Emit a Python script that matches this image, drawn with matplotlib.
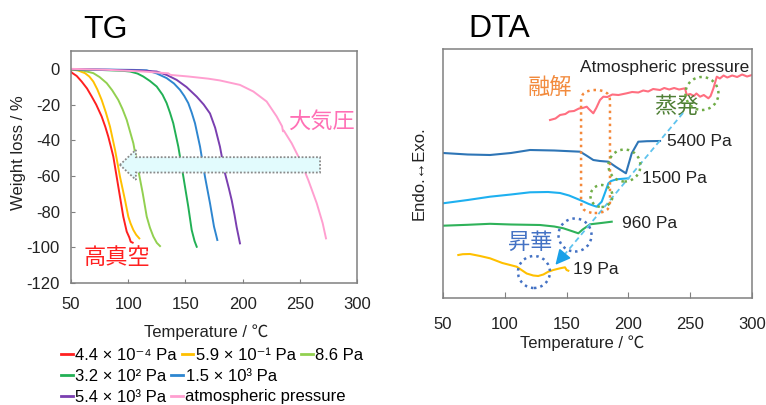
import matplotlib
matplotlib.use('Agg')
import matplotlib.pyplot as plt
from matplotlib.patches import Ellipse, FancyArrow, FancyBboxPatch
from matplotlib.lines import Line2D

plt.rcParams['font.family'] = ['Liberation Sans', 'Noto Sans CJK JP', 'DejaVu Sans']
plt.rcParams['axes.unicode_minus'] = False

# ---- TG data (temperature degC, weight loss %) ----
tg_labels = ['4.4 × 10⁻⁴ Pa', '5.9 × 10⁻¹ Pa', '8.6 Pa',
             '3.2 × 10² Pa', '1.5 × 10³ Pa',
             '5.4 × 10³ Pa', 'atmospheric pressure']
tg_colors = ['#ff2020', '#ffc000', '#92d050', '#22b055', '#2e86d0', '#7a3fb0', '#ff9fd0']

t_red = [50, 50.6, 55, 59.3, 64, 68.1, 72, 76.8, 80, 82.6, 85, 87, 89.9, 92.8, 95.7, 98.7, 101, 102.2, 103.9]
w_red = [-1.5, -2.1, -4.0, -7.1, -11, -15.5, -20, -26.7, -32.5, -38, -44, -49.2, -60.4, -71.6, -82.8, -91.2, -94.5, -96.9, -97.4]

t_yel = [50, 56, 62.2, 66, 69.5, 73, 76.8, 80.5, 84.1, 88.5, 92.8, 97.2, 100.1, 102, 104.5, 107, 109.7]
w_yel = [-0.3, -0.9, -2.4, -4.3, -7.1, -11.5, -17.4, -24.5, -32.4, -45.4, -60.4, -73.5, -82.8, -86.5, -90.3, -93, -95]

t_lgr = [50, 60, 69.5, 75, 81.2, 86, 91.3, 95, 98.7, 104.5, 108.8, 112.7, 116.2, 119, 122, 125, 127.8]
w_lgr = [-0.2, -0.9, -2.4, -4.6, -8.0, -12, -17.4, -22.5, -28.6, -41.7, -56.7, -69.7, -82.8, -89, -94, -97.5, -99.3]

t_grn = [50, 75, 95, 101.6, 108, 113.2, 119, 124.9, 130, 133.6, 136.5, 139.4, 143.8, 148.2, 152.5, 155.5, 158, 159.9]
w_grn = [-0.2, -0.6, -1.1, -1.5, -2.6, -4.3, -6.8, -9.9, -14.5, -19.2, -24.5, -30.5, -43.6, -60.4, -77.2, -90.3, -96.5, -99.7]

t_blu = [50, 80, 105, 116.2, 125, 133.6, 140, 145.3, 149, 152.5, 155.5, 158.4, 162.8, 167.1, 171.5, 175, 176.8, 177.9]
w_blu = [-0.2, -0.4, -0.6, -0.8, -2.6, -5.2, -8.2, -11.8, -15.2, -19.2, -24.5, -30.5, -43.6, -60.4, -75.3, -88.4, -93, -95.9]

t_pur = [50, 80, 110, 124.9, 134, 142.4, 151, 159.9, 166, 171.5, 176, 180.2, 184.6, 188, 190.5, 193, 194.8, 196.5, 197.7]
w_pur = [-0.2, -0.5, -0.9, -1.5, -3.5, -6.2, -10.2, -15.6, -20, -25, -33, -43.6, -58.5, -67, -73.7, -82, -88.7, -94, -97.8]

t_pnk = [50, 80, 113, 135, 137, 152.8, 170, 180.2, 197.7, 209.4, 221, 229.8, 234.5, 235.3, 236, 242.9, 250.2, 257.4, 264.8, 270, 272.9]
w_pnk = [0, -0.5, -1.5, -2.5, -3.4, -4.3, -5.5, -6.5, -9.0, -12.7, -18.3, -26.7, -32.2, -35.0, -34.6, -41.7, -51.0, -62.3, -75.3, -86.5, -95.0]

tg_t = [t_red, t_yel, t_lgr, t_grn, t_blu, t_pur, t_pnk]
tg_w = [w_red, w_yel, w_lgr, w_grn, w_blu, w_pur, w_pnk]

# ---- DTA data (temperature degC, signal arb. units) ----
dta_names = ['Atmospheric pressure', '5400 Pa', '1500 Pa', '960 Pa', '19 Pa']
dta_colors = ['#ff6f80', '#2e75b6', '#1eb0f0', '#2fb25a', '#ffc000']

d_atm_t = [136.6, 141, 144.7, 149, 152, 156, 160, 163, 166.3, 168, 171.6, 174, 177, 179.7, 183, 187, 192, 198.6, 203,
           208, 212, 216, 220, 225.6, 229, 233, 237, 241, 245.8, 247.2, 250, 253, 255, 258, 261, 264.7, 266.5, 268.8,
           271.5, 274, 277, 280, 284, 288, 292, 296, 300]
d_atm_v = [178, 179.5, 183, 184, 186.5, 187, 189.5, 190, 191.3, 189, 184.7, 190, 198, 201.3, 201, 203.5, 203, 204.7, 206,
           205.5, 207.5, 206.5, 209, 208, 210, 208.5, 210, 208.5, 209.7, 203, 204, 202, 204.5, 201.3, 203, 199.7, 202,
           209.7, 221.3, 219.5, 222.5, 220.5, 222.5, 221, 223.5, 221.5, 223]

d_5400_t = [50, 70, 88, 105, 120.4, 140, 161, 166, 171.6, 177, 183.8, 190, 198, 202.7, 208, 215, 225.6]
d_5400_v = [145, 143.5, 143, 145, 148, 147.5, 146.3, 142.5, 138, 137, 136.3, 131, 124.7, 144.7, 156.3, 156.8, 157]

d_1500_t = [50, 70, 88, 105, 120.4, 135, 144.7, 152, 160.8, 168, 174.3, 178.4, 181, 183.8, 186, 190.5, 200]
d_1500_v = [94.7, 98, 101.3, 103.5, 105.7, 106, 105, 102.5, 98, 94, 91.3, 96.3, 105, 114.7, 117, 118.7, 119.7]

d_960_t = [50, 70, 88, 105, 128.5, 140, 147.4, 154, 159.5, 163, 166.3, 169, 178, 186.5]
d_960_v = [72.3, 73.2, 74.2, 73.5, 73, 71.5, 69.7, 67, 64.7, 68.5, 71.3, 73.7, 75, 76.3]

d_19_t = [62.4, 66, 71.8, 80, 88, 98, 109.6, 117.7, 123, 127, 131.2, 135.2, 139.3, 144.7, 148.7, 150, 151.4]
d_19_v = [43, 43.8, 44, 42, 39.7, 35, 31.3, 24.5, 22.5, 22, 23.5, 26.3, 28, 29.7, 30.7, 28, 27.3]

dta_t = [d_atm_t, d_5400_t, d_1500_t, d_960_t, d_19_t]
dta_v = [d_atm_v, d_5400_v, d_1500_v, d_960_v, d_19_v]

fig = plt.figure(figsize=(7.66, 4.05), dpi=100)
W, H = 766, 405

# ================= TG =================
ax1 = fig.add_axes([71 / W, 1 - 283 / H, 286 / W, 232 / H])
for t, w, c in zip(tg_t, tg_w, tg_colors):
    ax1.plot(t, w, color=c, lw=1.4)
ax1.set_xlim(50, 300)
ax1.set_ylim(-120, 10)
ax1.set_xticks(range(50, 301, 50))
ax1.set_yticks(range(-120, 1, 20))
ax1.tick_params(direction='in', length=3, color='#808080', labelsize=12, labelcolor='#222222')
ax1.tick_params(axis='x', pad=10)
ax1.tick_params(axis='y', pad=8)
for s in ax1.spines.values():
    s.set_color('#808080')
    s.set_linewidth(1.1)
ax1.set_xlabel('Temperature / ℃', fontsize=12, color='#222222', x=0.474, labelpad=9)

arr = FancyArrow(267.7, -53.8, -161, 0, width=8.6, head_width=16.8, head_length=14,
                 length_includes_head=False, facecolor='#e2fbfd', edgecolor='#8a8a8a',
                 linestyle=(0, (1, 1)), linewidth=1.3, zorder=3)
ax1.add_patch(arr)
ax1.text(239.7, -30, '大気圧', color='#ff6fb5', fontsize=16, va='center', ha='left')
ax1.text(60.8, -106, '高真空', color='#ff2020', fontsize=16, va='center', ha='left')

fig.text(83 / W, 1 - 38 / H, 'TG', fontsize=23, va='baseline', ha='left')
fig.text(19 / W, 1 - 153 / H, 'Weight loss / %', fontsize=12, rotation=90,
         va='center', ha='center', color='#222222')

# legend in three flowing rows
handles = [Line2D([], [], color=c, lw=2) for c in tg_colors]
rows = [[0, 1, 2], [3, 4], [5, 6]]
row_y = [355, 376.5, 397]
for r, yy in zip(rows, row_y):
    fig.legend([handles[i] for i in r], [tg_labels[i] for i in r], loc='center left',
               bbox_to_anchor=(61 / W, 1 - yy / H), ncol=len(r), frameon=False,
               fontsize=12, handlelength=0.7, handletextpad=0.15, columnspacing=0.3,
               borderpad=0, borderaxespad=0)

# ================= DTA =================
ax2 = fig.add_axes([443 / W, 1 - 298 / H, 309 / W, 249 / H])
for t, v, c in zip(dta_t, dta_v, dta_colors):
    ax2.plot(t, v, color=c, lw=1.5)
ax2.set_xlim(50, 300)
ax2.set_ylim(0, 249)
ax2.set_xticks(range(50, 301, 50))
ax2.set_yticks([])
ax2.tick_params(axis='x', direction='in', length=4, color='#808080', labelsize=12,
                labelcolor='#222222', pad=14)
for s in ax2.spines.values():
    s.set_color('#808080')
    s.set_linewidth(1.1)
ax2.set_xlabel('Temperature / ℃', fontsize=12, color='#222222', x=0.451, labelpad=2)
ax2.set_ylabel('Endo.↔Exo.', fontsize=12, color='#222222', labelpad=12)

fig.text(468 / W, 1 - 37 / H, 'DTA', fontsize=23, va='baseline', ha='left')

ax2.text(297.6, 231, 'Atmospheric pressure', fontsize=12.5, ha='right', va='center', color='#222222')
ax2.text(231, 156.3, '5400 Pa', fontsize=12.5, ha='left', va='center', color='#222222')
ax2.text(210.8, 119.7, '1500 Pa', fontsize=12.5, ha='left', va='center', color='#222222')
ax2.text(194.6, 74.7, '960 Pa', fontsize=12.5, ha='left', va='center', color='#222222')
ax2.text(155, 28, '19 Pa', fontsize=12.5, ha='left', va='center', color='#222222')

ax2.text(136.6, 210, '融解', fontsize=16, color='#f28a3c', ha='center', va='center')
ax2.text(238.5, 191, '蒸発', fontsize=16, color='#4f7f35', ha='center', va='center')
ax2.text(120.4, 55, '昇華', fontsize=16, color='#4472c4', ha='center', va='center')

dot = (0, (1, 1.6))
px = 309 / 250.0  # pixels per degree
melt = FancyBboxPatch((161.7, 85), 23.4, 123, boxstyle='round,pad=0,rounding_size=11',
                      fill=False, edgecolor='#f4883a', linestyle=dot, linewidth=1.8, zorder=4)
ax2.add_patch(melt)

circ_green = [(259.5, 204.5, 16.5), (196.8, 132.5, 16), (178.2, 102, 11)]
circ_blue = [(156.8, 63, 16.5), (123.6, 26, 16)]
for cx, cy, r in circ_green:
    ax2.add_patch(Ellipse((cx, cy), 2 * r / px, 2 * r, fill=False, edgecolor='#70ad47',
                          linestyle=dot, linewidth=1.8, zorder=4))
for cx, cy, r in circ_blue:
    ax2.add_patch(Ellipse((cx, cy), 2 * r / px, 2 * r, fill=False, edgecolor='#4472c4',
                          linestyle=dot, linewidth=1.8, zorder=4))

ax2.plot([244.2, 146], [185, 40], color='#5ec3ee', lw=1.3, linestyle=(0, (3, 2)), zorder=3)
ax2.annotate('', xy=(139.5, 31), xytext=(147, 42),
             arrowprops=dict(arrowstyle='-|>,head_length=0.9,head_width=0.45',
                             color='#1aa0e8', lw=1.2), zorder=5)

fig.savefig('out.png', dpi=100)
